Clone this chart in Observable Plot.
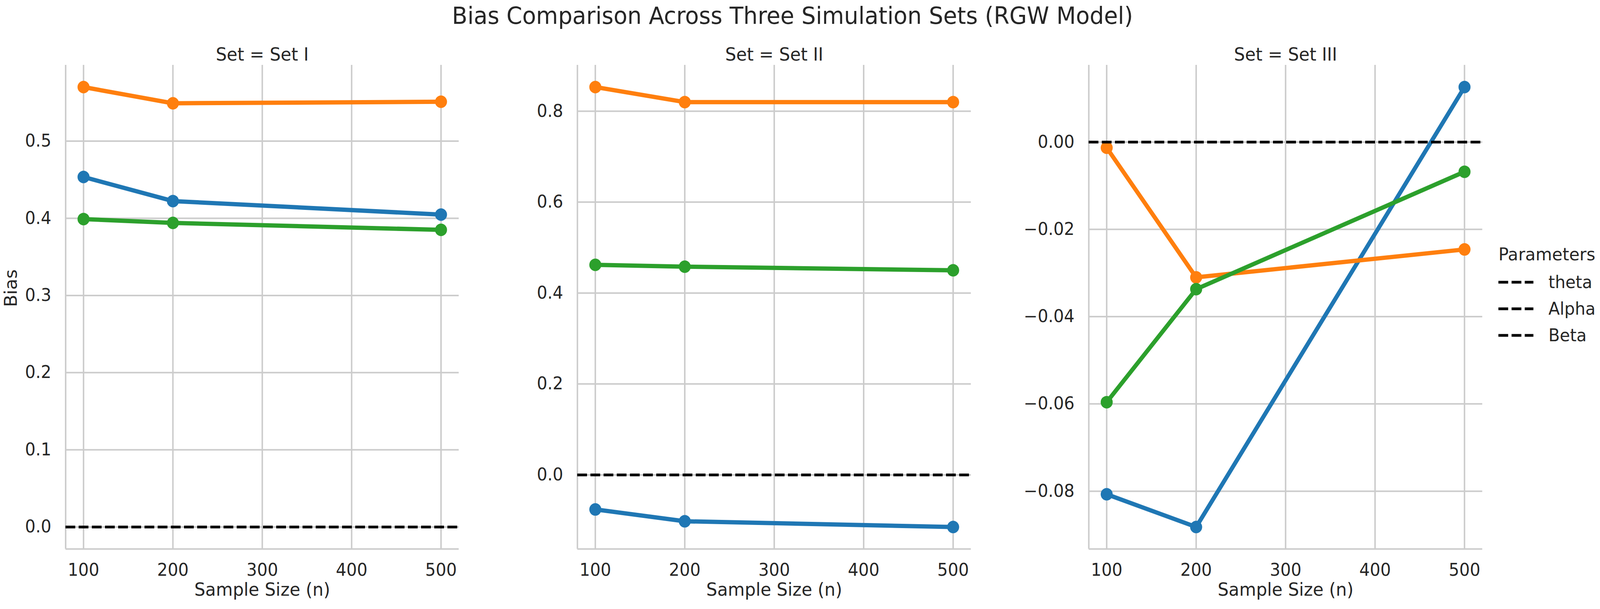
<!DOCTYPE html>
<html>
<head>
<meta charset="utf-8">
<script src="https://cdn.jsdelivr.net/npm/d3@7"></script>
<script src="https://cdn.jsdelivr.net/npm/@observablehq/plot@0.6"></script>
<style>
  html, body { margin: 0; padding: 0; background: #ffffff; overflow: hidden; }
  #chart { position: relative; width: 4252px; height: 1558px; background: #ffffff; overflow: hidden;
           font-family: "DejaVu Sans", sans-serif; color: #262626; transform-origin: 0 0; }
  #chart > * { position: absolute; }
  #title { font-size: 60px; white-space: nowrap; transform: translate(-50%, -50%); line-height: 1; }
</style>
</head>
<body>
<div id="chart"></div>
<script>
// ---------------- data ----------------
const sampleSizes = [100, 200, 500];
const sets = ["Set I", "Set II", "Set III"];
const params = ["theta", "Alpha", "Beta"];
const paramColors = ["#1f77b4", "#ff7f0e", "#2ca02c"];

// Bias values per set, per parameter (n = 100, 200, 500)
const setI_theta   = [0.4535, 0.4223, 0.4048];
const setI_alpha   = [0.5700, 0.5490, 0.5510];
const setI_beta    = [0.3990, 0.3940, 0.3850];

const setII_theta  = [-0.0760, -0.1020, -0.1146];
const setII_alpha  = [0.8530, 0.8200, 0.8200];
const setII_beta   = [0.4620, 0.4580, 0.4500];

const setIII_theta = [-0.0807, -0.0882, 0.0126];
const setIII_alpha = [-0.0013, -0.0310, -0.0246];
const setIII_beta  = [-0.0596, -0.0337, -0.0068];

// tick labels
const xTicks = [100, 200, 300, 400, 500];
const yTicksSetI   = [0.0, 0.1, 0.2, 0.3, 0.4, 0.5];
const yTicksSetII  = [0.0, 0.2, 0.4, 0.6, 0.8];
const yTicksSetIII = [-0.08, -0.06, -0.04, -0.02, 0.0];
const yTickFormats = [".1f", ".1f", ".2f"];

const titleText = "Bias Comparison Across Three Simulation Sets (RGW Model)";
const xLabel = "Sample Size (n)";
const yLabel = "Bias";
const legendTitle = "Parameters";
const referenceBias = 0;

// ---------------- build tables ----------------
const seriesBySet = [
  [setI_theta, setI_alpha, setI_beta],
  [setII_theta, setII_alpha, setII_beta],
  [setIII_theta, setIII_alpha, setIII_beta]
];
const yTicksBySet = [yTicksSetI, yTicksSetII, yTicksSetIII];

const rows = [];
sets.forEach((s, si) => {
  params.forEach((p, pi) => {
    seriesBySet[si][pi].forEach((v, ni) => rows.push({set: s, param: p, n: sampleSizes[ni], bias: v}));
  });
});

// matplotlib-like 5% autoscale margins
function padded(lo, hi) { const m = (hi - lo) * 0.05; return [lo - m, hi + m]; }

// ---------------- layout ----------------
const W = 4252, H = 1558;
const frameTop = 166, frameBottom = 1404;
const frameLefts = [174, 1534, 2893];
const frameWidths = [1045, 1046, 1046];
const mLeft = 174, mRight = 20;
const textColor = "#262626";
const gridColor = "#cccccc";

const chart = document.getElementById("chart");

sets.forEach((s, si) => {
  const data = rows.filter(d => d.set === s);
  const xDom = padded(d3.min(sampleSizes), d3.max(sampleSizes));
  const yVals = data.map(d => d.bias).concat([referenceBias]);
  const yDom = padded(d3.min(yVals), d3.max(yVals));
  const fmt = d3.format(yTickFormats[si]);

  const marks = [
    Plot.gridX(xTicks, {stroke: gridColor, strokeOpacity: 1, strokeWidth: 4}),
    Plot.gridY(yTicksBySet[si], {stroke: gridColor, strokeOpacity: 1, strokeWidth: 4}),
    Plot.ruleX([xDom[0]], {stroke: gridColor, strokeWidth: 4}),
    Plot.ruleY([yDom[0]], {stroke: gridColor, strokeWidth: 4}),
    Plot.axisX(xTicks, {tickSize: 0, tickPadding: 37, fontSize: 44, label: null, tickFormat: d => String(d)}),
    Plot.axisY(yTicksBySet[si], {tickSize: 0, tickPadding: 38, fontSize: 44, label: null, tickFormat: fmt})
  ];
  params.forEach((p, pi) => {
    const sd = data.filter(d => d.param === p);
    marks.push(Plot.line(sd, {x: "n", y: "bias", stroke: paramColors[pi], strokeWidth: 11,
                              strokeLinejoin: "round", strokeLinecap: "butt"}));
    marks.push(Plot.dot(sd, {x: "n", y: "bias", r: 16, fill: paramColors[pi], stroke: "none"}));
  });
  marks.push(Plot.ruleY([referenceBias], {stroke: "#000000", strokeWidth: 7, strokeDasharray: "26,9"}));
  marks.push(Plot.text([`Set = ${s}`], {frameAnchor: "top", dy: -44, fontSize: 46, fill: textColor}));
  marks.push(Plot.text([xLabel], {frameAnchor: "bottom", dy: 119, fontSize: 46, fill: textColor}));
  if (si === 0) {
    marks.push(Plot.text([yLabel], {frameAnchor: "left", dx: -145, rotate: -90, fontSize: 46, fill: textColor}));
  }

  const svg = Plot.plot({
    width: mLeft + frameWidths[si] + mRight,
    height: H,
    marginLeft: mLeft,
    marginRight: mRight,
    marginTop: frameTop,
    marginBottom: H - frameBottom,
    x: {type: "linear", domain: xDom},
    y: {type: "linear", domain: yDom},
    style: {fontFamily: "DejaVu Sans", fontSize: "44px", color: textColor, background: "transparent",
            overflow: "visible", maxWidth: "none"},
    marks
  });
  svg.style.position = "absolute";
  svg.style.left = (frameLefts[si] - mLeft) + "px";
  svg.style.top = "0px";
  chart.appendChild(svg);
});

// ---------------- title ----------------
const title = document.createElement("div");
title.id = "title";
title.textContent = titleText;
title.style.left = "2106px";
title.style.top = "40px";
chart.appendChild(title);

// ---------------- legend ----------------
const legendLeft = 3940;
const lg = d3.create("svg")
  .attr("width", 312).attr("height", H)
  .style("position", "absolute").style("left", legendLeft + "px").style("top", "0px")
  .style("font-family", "DejaVu Sans");
lg.append("text").attr("x", 42).attr("y", 650).attr("dy", "0.35em")
  .attr("font-size", 45).attr("fill", textColor).text(legendTitle);
params.forEach((p, i) => {
  const y = 722 + 68 * i;
  lg.append("line").attr("x1", 42).attr("x2", 135).attr("y1", y).attr("y2", y)
    .attr("stroke", "#000").attr("stroke-width", 7).attr("stroke-dasharray", "26,9");
  lg.append("text").attr("x", 175).attr("y", y).attr("dy", "0.35em")
    .attr("font-size", 44).attr("fill", textColor).text(p);
});
chart.appendChild(lg.node());

// fit the fixed-size chart into the actual viewport (which may be narrower than asked)
function fit() {
  const vw = document.documentElement.clientWidth || window.innerWidth;
  const vh = document.documentElement.clientHeight || window.innerHeight;
  const sx = Math.min(1, vw / W), sy = Math.min(1, vh / H);
  chart.style.transform = (sx < 1 || sy < 1) ? `scale(${sx}, ${sy})` : "none";
}
fit();
window.addEventListener("resize", fit);
</script>
</body>
</html>
